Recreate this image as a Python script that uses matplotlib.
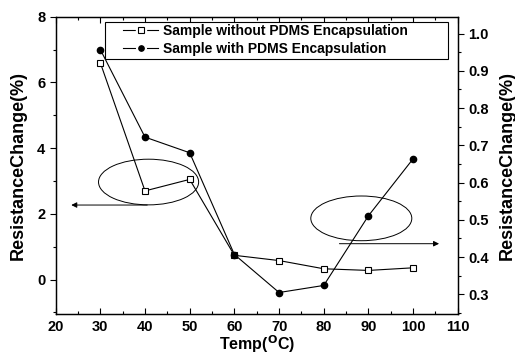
import matplotlib
matplotlib.use("Agg")
import matplotlib.pyplot as plt
from matplotlib.patches import Ellipse, Rectangle
from matplotlib.lines import Line2D
from matplotlib.legend_handler import HandlerTuple
from matplotlib.ticker import MultipleLocator

plt.rcParams['font.family'] = ['Liberation Sans', 'DejaVu Sans']
plt.rcParams['font.weight'] = 'bold'

temp = [30, 40, 50, 60, 70, 80, 90, 100]
without_pdms = [6.6, 2.7, 3.05, 0.74, 0.58, 0.33, 0.28, 0.36]
with_pdms = [0.957, 0.722, 0.680, 0.407, 0.305, 0.324, 0.511, 0.664]
label_without = "Sample without PDMS Encapsulation"
label_with = "Sample with PDMS Encapsulation"

fig = plt.figure(figsize=(5.15, 3.64), dpi=100)
ax = fig.add_axes([0.108, 0.137, 0.781, 0.817])
ax2 = ax.twinx()

ax.plot(temp, without_pdms, color='black', lw=0.8, marker='s', ms=4.5,
        mfc='white', mec='black', mew=0.8)
ax2.plot(temp, with_pdms, color='black', lw=0.8, marker='o', ms=4.5,
         mfc='black', mec='black')

ax.set_xlim(20, 110)
ax.set_ylim(-1.05, 8)
ax2.set_ylim(0.247, 1.045)

ax.xaxis.set_major_locator(MultipleLocator(10))
ax.xaxis.set_minor_locator(MultipleLocator(5))
ax.yaxis.set_major_locator(MultipleLocator(2))
ax.yaxis.set_minor_locator(MultipleLocator(1))
ax2.yaxis.set_major_locator(MultipleLocator(0.1))
ax2.yaxis.set_minor_locator(MultipleLocator(0.05))

ax.tick_params(axis='x', which='both', direction='in', top=True, labelsize=10.5, width=0.8, pad=4)
ax.tick_params(axis='x', which='major', length=4)
ax.tick_params(axis='x', which='minor', length=2.5)
ax.tick_params(axis='y', which='both', direction='out', labelsize=10.5, width=0.8)
ax.tick_params(axis='y', which='major', length=4)
ax.tick_params(axis='y', which='minor', length=2.5)
ax2.tick_params(axis='y', which='both', direction='out', labelsize=10.5, width=0.8)
ax2.tick_params(axis='y', which='major', length=4)
ax2.tick_params(axis='y', which='minor', length=2.5)

for a in (ax, ax2):
    for s in a.spines.values():
        s.set_linewidth(0.9)

ax.set_xlabel("Temp($\\mathbf{^{O}}$C)", fontsize=11.5, fontweight='bold', labelpad=0)
ax.set_ylabel("ResistanceChange(%)", fontsize=13, fontweight='bold', labelpad=7)
ax2.set_ylabel("ResistanceChange(%)", fontsize=13, fontweight='bold', labelpad=7)

# Left ellipse and arrow (to left axis)
ax.add_patch(Ellipse((40.8, 2.97), 22.4, 1.39, fill=False, ec='black', lw=0.7))
ax.annotate("", xy=(23.5, 2.27), xytext=(40.5, 2.27),
            arrowprops=dict(arrowstyle='-|>', color='black', lw=0.7,
                            mutation_scale=8, shrinkA=0, shrinkB=0))
# Right ellipse and arrow (to right axis)
ax2.add_patch(Ellipse((88.4, 0.504), 22.6, 0.12, fill=False, ec='black', lw=0.7))
ax2.annotate("", xy=(105.8, 0.436), xytext=(83.5, 0.436),
             arrowprops=dict(arrowstyle='-|>', color='black', lw=0.7,
                             mutation_scale=8, shrinkA=0, shrinkB=0))

# Legend box
ax2.add_patch(Rectangle((0.123, 0.858), 0.853, 0.124, transform=ax2.transAxes,
                        fc='white', ec='black', lw=0.8, zorder=4))

def make_handle(marker, mfc):
    line = Line2D([], [], color='black', lw=0.8)
    gap = Line2D([], [], ls='none', marker=marker, ms=7, mfc='white', mec='white')
    mk = Line2D([], [], ls='none', marker=marker, ms=4, mfc=mfc, mec='black', mew=0.8)
    return (line, gap, mk)

leg = ax2.legend(handles=[make_handle('s', 'white'), make_handle('o', 'black')],
                 labels=[label_without, label_with],
                 handler_map={tuple: HandlerTuple(ndivide=1, pad=0)},
                 loc='upper left', bbox_to_anchor=(0.168, 0.975),
                 fontsize=10, frameon=False, handlelength=2.5, handletextpad=0.35,
                 borderpad=0, labelspacing=0.25, borderaxespad=0)
leg.set_zorder(5)
for t in leg.get_texts():
    t.set_fontweight('bold')

fig.savefig("out.png", dpi=100)
